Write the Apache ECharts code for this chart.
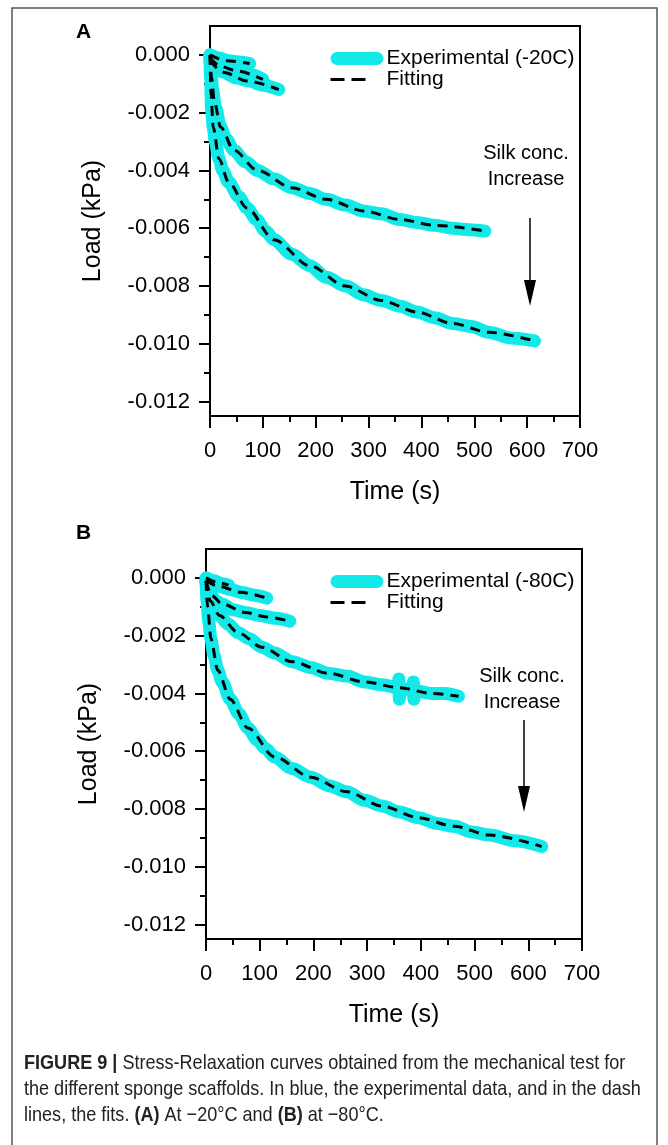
<!DOCTYPE html>
<html>
<head>
<meta charset="utf-8">
<script src="https://cdn.jsdelivr.net/npm/echarts@6/dist/echarts.min.js"></script>
<style>
  html, body { margin: 0; padding: 0; background: #fff; }
  #chart { width: 668px; height: 1145px; }
</style>
</head>
<body>
<div id="chart"></div>
<script>
// axis ranges and ticks
const xMin = 0, xMax = 700, xStep = 100;
const yMin = -0.0125, yMax = 0.001;
const yMajor = [0, -0.002, -0.004, -0.006, -0.008, -0.010, -0.012];
const yMinor = [-0.001, -0.003, -0.005, -0.007, -0.009, -0.011];

// panel A (-20C) experimental, [time s, load kPa]
const expA1 = [[0, 0], [15, -0.0001], [35, -0.0002], [55, -0.00025], [75, -0.0003]];
const expA2 = [[0, -0.0001], [8, -0.0003], [20, -0.0004], [40, -0.0005], [60, -0.0006], [80, -0.0007], [100, -0.00085]];
const expA3 = [[0, -0.0002], [8, -0.0004], [25, -0.0006], [50, -0.0008], [75, -0.0009], [100, -0.00105], [130, -0.0012]];
const expA4 = [[0, 0], [2, -0.0006], [5, -0.0012], [10, -0.0018], [20, -0.0025], [30, -0.0029], [45, -0.0033],
  [67, -0.0037], [90, -0.0040], [121, -0.0043], [155, -0.0046], [189, -0.0048], [220, -0.0050], [256, -0.0052],
  [290, -0.0054], [324, -0.0055], [360, -0.0057], [391, -0.0058], [425, -0.0059], [459, -0.0060], [490, -0.00605], [520, -0.0061]];
const expA5 = [[0, 0], [1, -0.0008], [3, -0.0019], [6, -0.0025], [10, -0.0030], [17, -0.0036], [24, -0.0040], [35, -0.0044],
  [54, -0.0049], [70, -0.0053], [88, -0.0057], [105, -0.0061], [121, -0.0064], [155, -0.0069], [189, -0.0073],
  [220, -0.0077], [256, -0.0080], [290, -0.0083], [324, -0.0085], [360, -0.0087], [391, -0.0089], [425, -0.0091],
  [459, -0.0093], [495, -0.0094], [527, -0.0096], [570, -0.0098], [614, -0.0099]];

// panel A fits
const fitA1 = [[0, 0], [30, -0.0002], [75, -0.0003]];
const fitA2 = [[0, -0.0001], [20, -0.0004], [50, -0.00055], [100, -0.00085]];
const fitA3 = [[0, -0.0002], [25, -0.0006], [70, -0.0009], [130, -0.0012]];
const fitA4 = [[0, 0], [3, -0.0008], [8, -0.0016], [20, -0.0025], [45, -0.0033], [90, -0.0040], [155, -0.0046],
  [220, -0.0050], [290, -0.0054], [360, -0.0057], [425, -0.0059], [520, -0.0061]];
const fitA5 = [[0, 0], [2, -0.0014], [6, -0.0025], [17, -0.0036], [35, -0.0044], [70, -0.0053], [121, -0.0064],
  [189, -0.0073], [256, -0.0080], [324, -0.0085], [391, -0.0089], [459, -0.0093], [527, -0.0096], [614, -0.0099]];

// panel B (-80C) experimental
const expB1 = [[0, 0], [15, -0.0001], [30, -0.0002], [42, -0.00025]];
const expB2 = [[0, -0.0001], [10, -0.0002], [25, -0.0003], [45, -0.0004], [65, -0.0005], [90, -0.0006], [113, -0.0007]];
const expB3 = [[0, -0.0001], [4, -0.0004], [10, -0.0006], [17, -0.0008], [30, -0.0009], [50, -0.0011], [73, -0.0012],
  [100, -0.0013], [130, -0.0014], [156, -0.0015]];
const expB4 = [[0, -0.0001], [3, -0.0005], [8, -0.0008], [15, -0.0011], [25, -0.0013], [41, -0.0016], [60, -0.0019],
  [80, -0.0021], [104, -0.0024], [128, -0.0026], [160, -0.0029], [195, -0.0031], [227, -0.0033], [262, -0.0034],
  [295, -0.0036], [328, -0.0037], [358, -0.0038], [359, -0.0035], [360, -0.0042], [361, -0.0038], [385, -0.0039],
  [386, -0.0036], [387, -0.0042], [388, -0.0039], [420, -0.0040], [445, -0.0040], [470, -0.0041]];
const expB5 = [[0, -0.0001], [2, -0.0008], [5, -0.0015], [9, -0.0021], [15, -0.0027], [22, -0.0032], [30, -0.0036],
  [45, -0.0042], [61, -0.0047], [78, -0.0052], [95, -0.0056], [110, -0.0059], [128, -0.0062], [160, -0.0066],
  [195, -0.0069], [230, -0.0072], [262, -0.0074], [295, -0.0077], [328, -0.0079], [360, -0.0081], [395, -0.0083],
  [430, -0.0085], [462, -0.0086], [495, -0.0088], [528, -0.0089], [575, -0.0091], [625, -0.0093]];

// panel B fits
const fitB1 = [[0, 0], [20, -0.00015], [42, -0.00025]];
const fitB2 = [[0, -0.0001], [25, -0.0003], [65, -0.0005], [113, -0.0007]];
const fitB3 = [[0, -0.0001], [10, -0.0006], [30, -0.0009], [73, -0.0012], [113, -0.00135], [156, -0.0015]];
const fitB4 = [[0, -0.0001], [8, -0.0008], [25, -0.0013], [60, -0.0019], [104, -0.0024], [160, -0.0029],
  [227, -0.0033], [295, -0.0036], [360, -0.0038], [420, -0.0040], [470, -0.0041]];
const fitB5 = [[0, -0.0001], [3, -0.0010], [9, -0.0021], [22, -0.0032], [45, -0.0042], [78, -0.0052], [128, -0.0062],
  [195, -0.0069], [262, -0.0074], [328, -0.0079], [395, -0.0083], [462, -0.0086], [528, -0.0089], [625, -0.0093]];

const expA = [expA1, expA2, expA3, expA4, expA5];
const fitA = [fitA1, fitA2, fitA3, fitA4, fitA5];
const expB = [expB1, expB2, expB3, expB4, expB5];
const fitB = [fitB1, fitB2, fitB3, fitB4, fitB5];

const nameA = 'Experimental (-20C)';
const nameB = 'Experimental (-80C)';
const nameFit = 'Fitting';

const FONT = '"Liberation Sans", Arial, sans-serif';
const CYAN = '#12EAEA';
const PILL = 'path://M6.5,0H46.5A6.5,6.5,0,0,1,46.5,13H6.5A6.5,6.5,0,0,1,6.5,0Z';

const chart = echarts.init(document.getElementById('chart'), null, { renderer: 'canvas' });

const grids = [
  { left: 210, top: 26, width: 370, height: 390 },
  { left: 206, top: 549, width: 376, height: 390 }
].map((g) => ({ ...g, show: true, borderColor: '#000', borderWidth: 2, backgroundColor: 'transparent' }));

function xAxisFor(gi) {
  return {
    type: 'value', gridIndex: gi, min: xMin, max: xMax, interval: xStep, position: 'bottom',
    name: 'Time (s)', nameLocation: 'middle', nameGap: 64,
    nameTextStyle: { fontSize: 25, fontFamily: FONT, color: '#000' },
    axisLine: { onZero: false, lineStyle: { color: '#000', width: 2 } },
    axisTick: { length: 12, lineStyle: { color: '#000', width: 2 } },
    minorTick: { show: true, splitNumber: 2, length: 6, lineStyle: { color: '#000', width: 2 } },
    axisLabel: { margin: 24, fontSize: 22, fontFamily: FONT, color: '#000' },
    splitLine: { show: false }
  };
}

function yAxesFor(gi) {
  return [
    {
      type: 'value', gridIndex: gi, min: yMin, max: yMax, position: 'left',
      name: 'Load (kPa)', nameLocation: 'middle', nameGap: 104,
      nameTextStyle: { fontSize: 25, fontFamily: FONT, color: '#000' },
      axisLine: { onZero: false, lineStyle: { color: '#000', width: 2 } },
      axisTick: { customValues: yMajor, length: 11, lineStyle: { color: '#000', width: 2 } },
      axisLabel: { customValues: yMajor, margin: 20, fontSize: 22, fontFamily: FONT, color: '#000',
        formatter: (v) => v.toFixed(3) },
      splitLine: { show: false }
    },
    {
      type: 'value', gridIndex: gi, min: yMin, max: yMax, position: 'left', offset: 0,
      axisLine: { show: false, onZero: false },
      axisTick: { customValues: yMinor, length: 6, lineStyle: { color: '#000', width: 2 } },
      axisLabel: { show: false },
      splitLine: { show: false }
    }
  ];
}

function seriesFor(gi, exps, fits, expName) {
  const out = [];
  exps.forEach((d) => out.push({
    type: 'line', name: expName, xAxisIndex: gi, yAxisIndex: gi * 2, data: d,
    symbol: 'none', smooth: 0.3, smoothMonotone: 'x',
    lineStyle: { color: CYAN, width: 13, cap: 'round', join: 'round' },
    itemStyle: { color: CYAN }, z: 2
  }));
  fits.forEach((d) => out.push({
    type: 'line', name: nameFit, xAxisIndex: gi, yAxisIndex: gi * 2, data: d,
    symbol: 'none', smooth: 0.3, smoothMonotone: 'x',
    lineStyle: { color: '#000', width: 3, type: [10, 7] },
    itemStyle: { color: '#000' }, z: 3
  }));
  return out;
}

function legendFor(top, expName) {
  return {
    left: 324, top, orient: 'vertical', itemGap: 0, itemWidth: 53, itemHeight: 13,
    selectedMode: false,
    textStyle: { fontSize: 21, fontFamily: FONT, color: '#000', padding: [0, 0, 0, -2] },
    data: [
      { name: expName, icon: PILL, itemStyle: { color: CYAN, opacity: 1 } },
      { name: nameFit, lineStyle: { color: '#000', width: 3, type: [14, 7, 14, 60] }, itemStyle: { opacity: 0 } }
    ]
  };
}

function arrow(x, y1, y2) {
  return {
    type: 'group', children: [
      { type: 'line', shape: { x1: x, y1: y1, x2: x, y2: y2 - 14 }, style: { stroke: '#000', lineWidth: 1.5 } },
      { type: 'polygon', shape: { points: [[x - 6, y2 - 26], [x + 6, y2 - 26], [x, y2]] }, style: { fill: '#000' } }
    ]
  };
}

const CAP_FONT = '"Liberation Sans", Arial, sans-serif';

const option = {
  animation: false,
  backgroundColor: '#fff',
  grid: grids,
  xAxis: [xAxisFor(0), xAxisFor(1)],
  yAxis: [...yAxesFor(0), ...yAxesFor(1)],
  legend: [legendFor(43, nameA), legendFor(566, nameB)],
  series: [...seriesFor(0, expA, fitA, nameA), ...seriesFor(1, expB, fitB, nameB)],
  graphic: [
    { type: 'rect', shape: { x: 12, y: 8, width: 645, height: 1150 },
      style: { fill: 'none', stroke: '#555', lineWidth: 1.5 }, silent: true },
    { type: 'text', left: 76, top: 22, style: { text: 'A', fontSize: 21, fontWeight: 'bold', fontFamily: FONT, fill: '#000' } },
    { type: 'text', left: 76, top: 523, style: { text: 'B', fontSize: 21, fontWeight: 'bold', fontFamily: FONT, fill: '#000' } },
    { type: 'text', x: 526, y: 140, style: { text: 'Silk conc.\nIncrease', fontSize: 20, fontFamily: FONT, fill: '#000', align: 'center', lineHeight: 26 } },
    { type: 'text', x: 522, y: 663, style: { text: 'Silk conc.\nIncrease', fontSize: 20, fontFamily: FONT, fill: '#000', align: 'center', lineHeight: 26 } },
    arrow(530, 218, 306),
    arrow(524, 720, 812),
    {
      type: 'text', x: 24, y: 1050, scaleX: 0.86,
      style: {
        text: '{b|FIGURE 9 |} Stress-Relaxation curves obtained from the mechanical test for\nthe different sponge scaffolds. In blue, the experimental data, and in the dash\nlines, the fits. {b|(A)} At \u221220\u00b0C and {b|(B)} at \u221280\u00b0C.',
        fontSize: 21, fontFamily: CAP_FONT, fill: '#222', lineHeight: 26,
        rich: { b: { fontWeight: 'bold', fontSize: 21, fontFamily: CAP_FONT, fill: '#222' } }
      }
    }
  ]
};

chart.setOption(option);
</script>
</body>
</html>
